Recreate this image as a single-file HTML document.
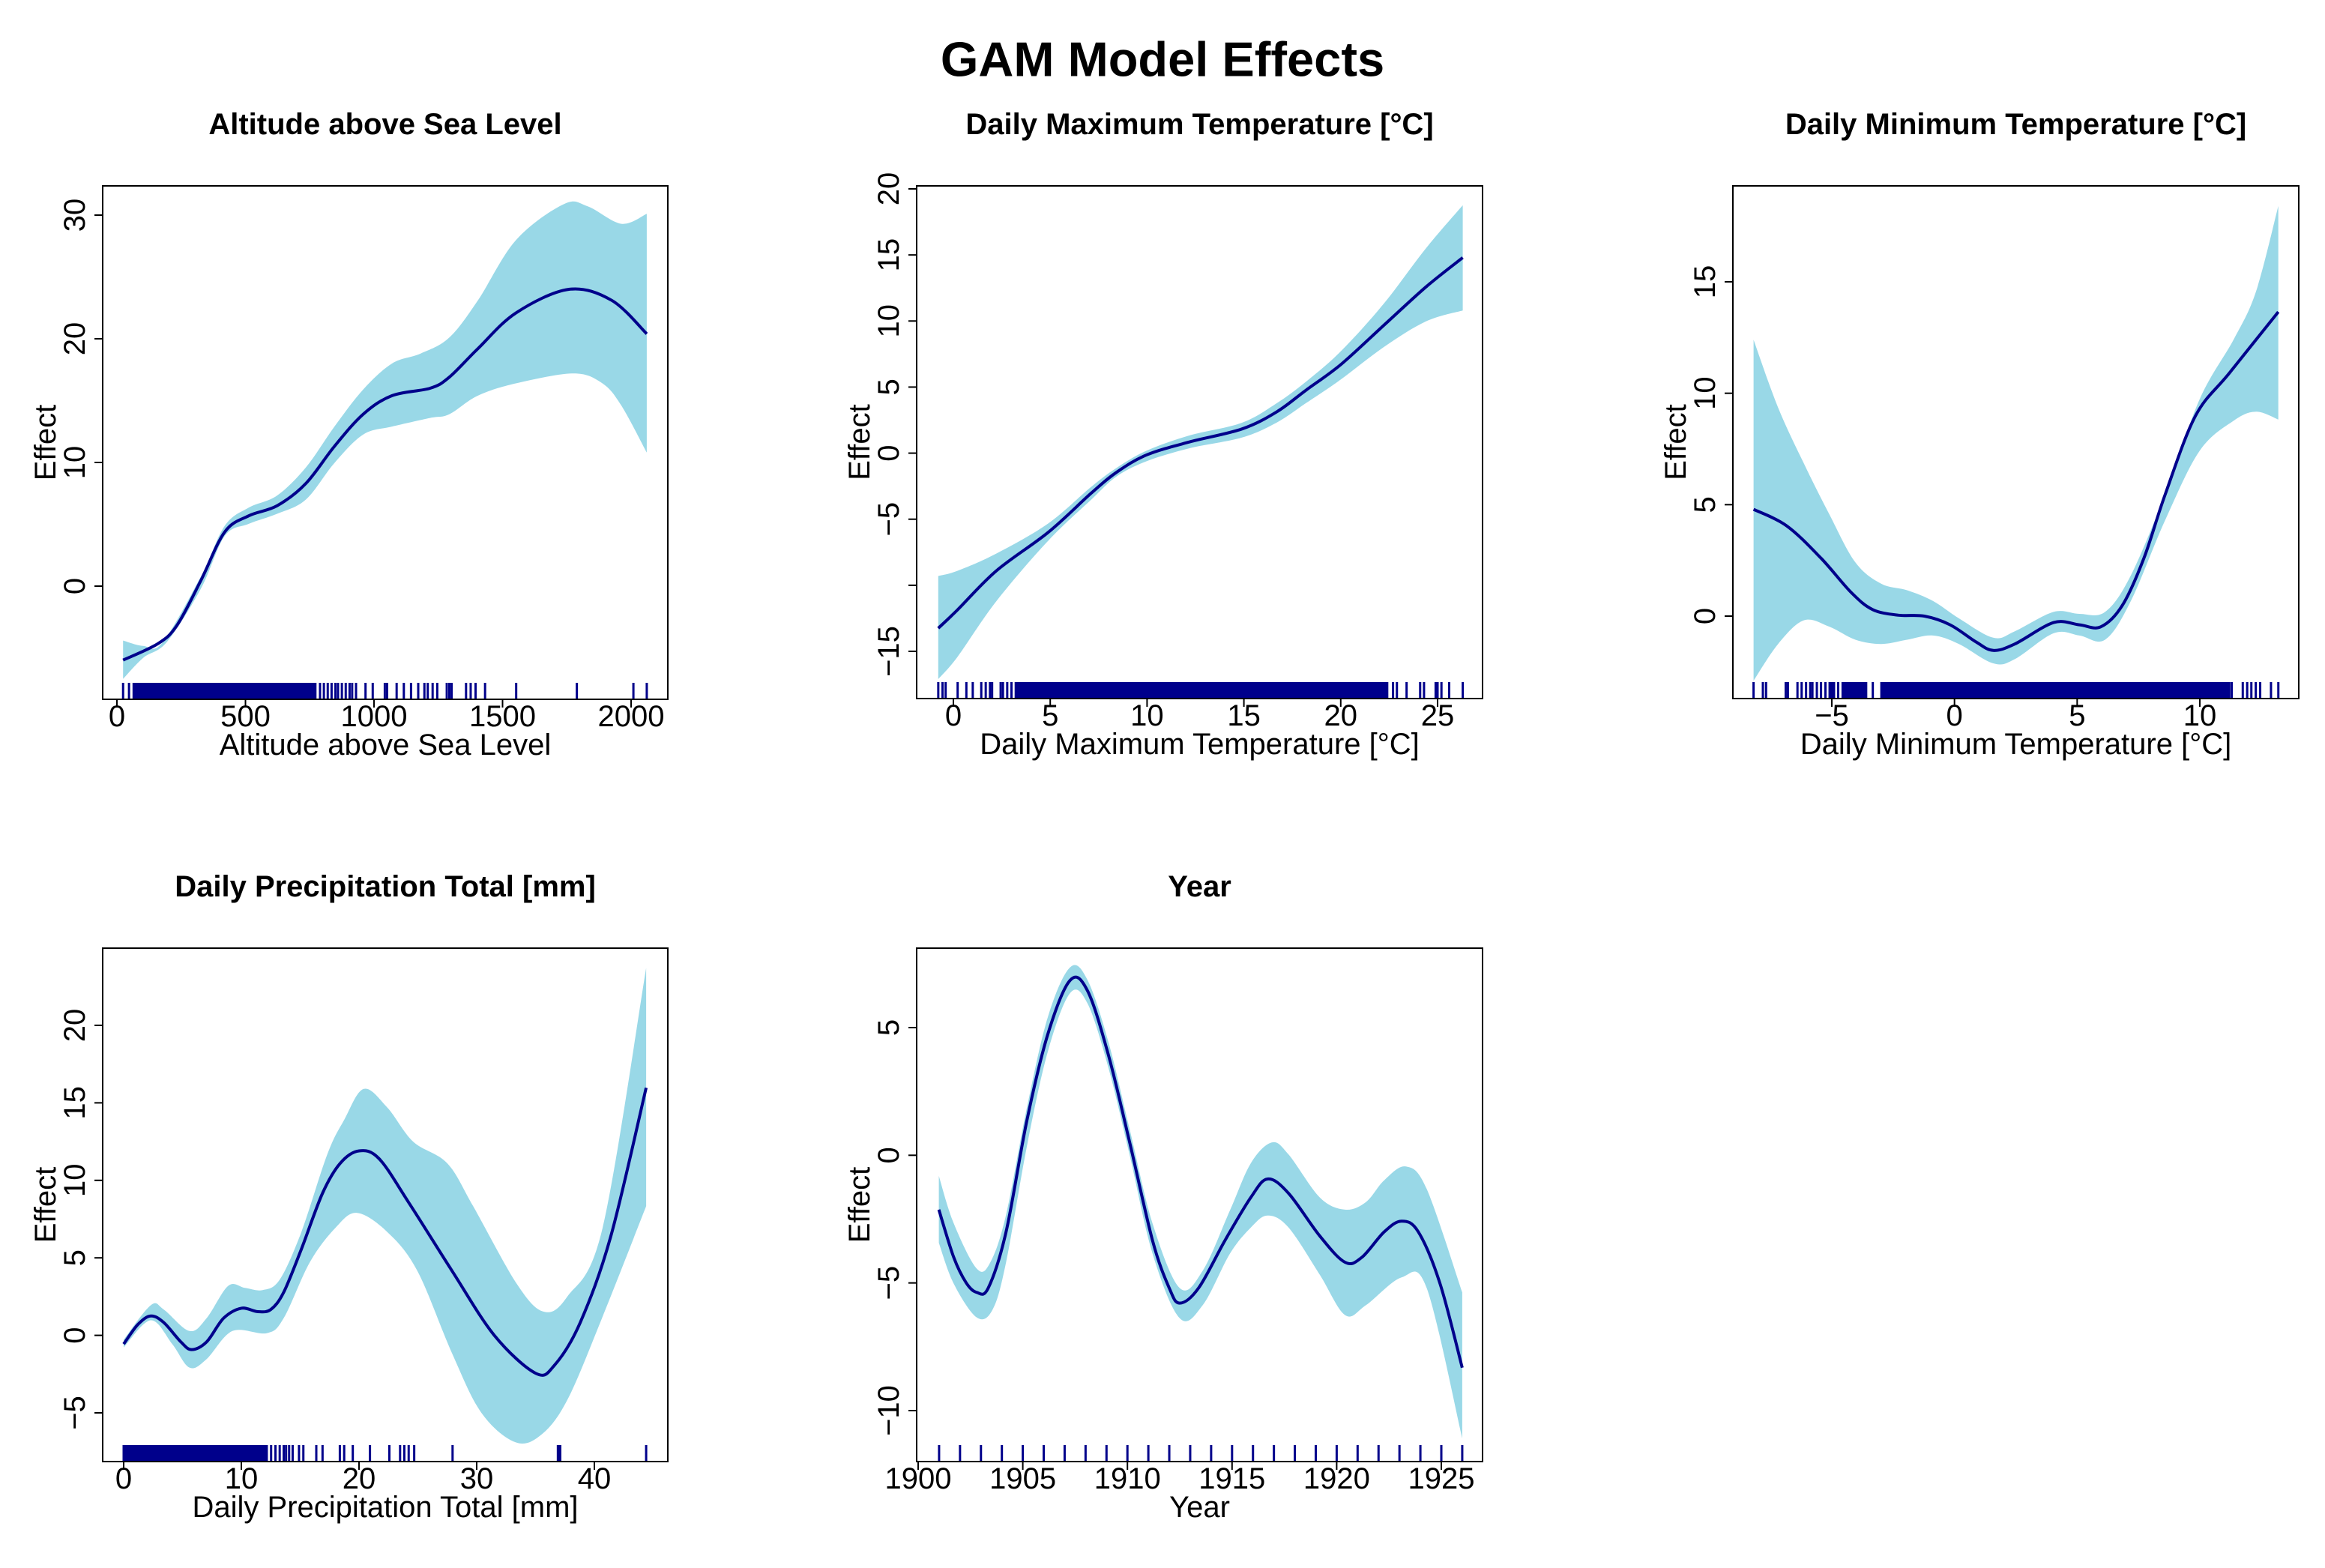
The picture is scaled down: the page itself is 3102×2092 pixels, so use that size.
<!DOCTYPE html>
<html><head><meta charset="utf-8">
<style>
html,body{margin:0;padding:0;background:#fff;}
svg{display:block;font-family:"Liberation Sans",Arial,sans-serif;}
</style></head>
<body>
<svg id="fig" width="3102" height="2092" viewBox="0 0 3102 2092" xmlns="http://www.w3.org/2000/svg">
<rect width="3102" height="2092" fill="#fff"/>
<text x="1551" y="79" font-size="65" font-weight="bold" text-anchor="middle" dominant-baseline="central">GAM Model Effects</text>
</svg>
<script>
// ---------- Panel 1: Altitude ----------
const p1FitX = [24,158,233,326,419,512,623,735,846,958,1070,1218,1293,1404,1553,1758,1925,2061];
const p1FitY = [-5.98,-4.67,-3.19,0.43,4.37,5.68,6.5,8.3,11.3,13.9,15.4,16.0,16.9,19.2,22.1,24.0,23.1,20.4];
const p1UpX = [24,102,177,326,419,512,623,735,846,958,1070,1181,1293,1404,1553,1739,1832,1962,2061];
const p1UpY = [-4.4,-4.83,-4.57,0.76,4.86,6.34,7.33,9.6,12.9,15.9,18.0,18.8,20.1,23.1,28.0,30.9,30.7,29.3,30.1];
const p1LoX = [24,102,195,326,419,512,623,735,846,958,1070,1218,1293,1404,1553,1776,1888,1962,2061];
const p1LoY = [-7.5,-5.8,-4.5,-0.23,4.04,5.03,5.85,7.0,9.96,12.26,12.9,13.6,13.9,15.4,16.4,17.2,16.4,14.6,10.8];
const p1RugSingle = [24,47,790,805,820,835,850,860,875,890,905,915,930,967,995,1042,1051,1088,1116,1144,1172,1196,1209,1228,1246,1283,1293,1302,1358,1376,1395,1432,1553,1789,2009,2061];
const p1RugSpanStart = [65];
const p1RugSpanEnd = [772];
const p1XTicks = [0,500,1000,1500,2000];
const p1YTicks = [0,10,20,30];

// ---------- Panel 2: Daily Max Temp ----------
const p2FitX = [-0.78,0.22,2.22,4.89,7.1,8.44,10.0,12.2,14.9,16.7,18.2,20.0,22.2,24.4,26.3];
const p2FitY = [-13.25,-11.85,-8.9,-6.0,-3.05,-1.43,-0.12,0.85,1.83,3.13,4.76,6.7,9.64,12.58,14.8];
const p2UpY = [-9.3,-8.9,-7.6,-5.33,-2.57,-1.1,0.2,1.34,2.3,3.78,5.4,7.7,11.27,15.5,18.76];
const p2LoY = [-17.1,-15.4,-11.2,-6.64,-3.54,-1.75,-0.6,0.37,1.18,2.32,3.78,5.57,8.0,9.97,10.8];
const p2RugSingle = [-0.78,-0.56,-0.4,0.22,0.67,1.0,1.44,1.67,1.89,2.0,2.44,2.56,2.78,3.0,22.4,22.7,22.9,23.4,24.1,24.3,24.9,25.0,25.2,25.6,26.3];
const p2RugSpanStart = [3.22];
const p2RugSpanEnd = [22.3];
const p2XTicks = [0,5,10,15,20,25];
const p2YTicks = [-15,-10,-5,0,5,10,15,20];
const p2YLabels = ["\u221215","","\u22125","0","5","10","15","20"];

// ---------- Panel 3: Daily Min Temp ----------
const p3FitX = [-8.19,-6.84,-5.44,-4.21,-3.33,-2.28,-1.23,-0.18,0.88,1.58,2.46,4.04,5.09,5.96,6.84,7.72,8.6,9.82,11.2,13.2];
const p3FitY = [4.79,4.05,2.6,1.06,0.29,0.04,0,-0.39,-1.16,-1.54,-1.25,-0.29,-0.39,-0.48,0.48,2.6,5.5,8.98,10.9,13.65];
const p3BandX = [-8.19,-7.19,-6.14,-5.09,-4.04,-2.98,-1.93,-0.88,0.18,1.58,2.46,4.04,5.09,6.14,7.19,8.6,10.0,11.4,12.3,13.2];
const p3UpY = [12.4,9.36,6.85,4.54,2.41,1.45,1.16,0.68,-0.1,-0.97,-0.68,0.19,0.1,0.19,1.83,5.5,9.75,12.45,14.6,18.4];
const p3LoY = [-2.9,-1.25,-0.19,-0.48,-1.06,-1.25,-1.06,-0.87,-1.25,-2.12,-1.93,-0.77,-0.87,-1.06,0.68,4.34,7.43,8.78,9.17,8.82];
const p3RugSingle = [-8.19,-7.81,-7.68,-6.88,-6.79,-6.4,-6.23,-6.05,-5.88,-5.79,-5.61,-5.44,-5.26,-5.09,-5.0,-4.91,-4.74,-3.6,-3.33,11.3,11.75,11.93,12.1,12.28,12.46,12.9,13.2];
const p3RugSpanStart = [-4.56,-2.98];
const p3RugSpanEnd = [-3.68,11.2];
const p3XTicks = [-5,0,5,10];
const p3YTicks = [0,5,10,15];

// ---------- Panel 4: Precipitation ----------
const p4FitX = [0,1.2,2.3,3.4,4.86,5.77,7.05,8.5,10.0,11.4,12.5,13.6,15.1,16.9,18.4,20.0,21.7,24.2,27.9,31.5,35.0,36.6,38.8,41.4,44.4];
const p4FitY = [-0.56,0.69,1.25,0.83,-0.42,-0.92,-0.42,1.11,1.75,1.53,1.67,2.78,5.56,9.17,11.1,11.9,11.4,8.6,4.17,0,-2.44,-1.94,0.83,6.4,15.97];
const p4UpX = [0,2.3,3.4,5.59,7.05,8.88,10.3,11.8,13.26,15.1,17.3,18.74,20.4,22.4,24.6,27.5,29.7,33.4,35.7,37.7,40.7,44.4];
const p4UpY = [-0.28,1.94,1.67,0.28,1.11,3.19,3.06,2.92,3.6,6.67,11.67,13.9,15.9,14.7,12.5,11.1,8.33,3.33,1.53,2.5,6.94,23.7];
const p4LoX = [0,2.3,4.13,5.59,7.05,9.24,12.16,13.6,15.82,18.0,19.83,22.4,24.95,27.88,30.4,33.3,35.5,37.7,40.65,44.4];
const p4LoY = [-0.78,0.97,-0.56,-2.08,-1.53,0.28,0.14,1.11,4.72,6.94,7.9,6.67,4.17,-1.11,-5.0,-6.9,-6.4,-4.17,1.11,8.33];
const p4RugSingle = [12.16,12.53,12.9,13.26,13.6,13.8,14.06,14.36,14.9,15.27,16.37,16.9,18.37,18.74,19.47,20.93,22.58,23.49,23.85,24.22,24.69,27.95,36.9,37.0,37.1,44.4];
const p4RugSpanStart = [0];
const p4RugSpanEnd = [12.0];
const p4XTicks = [0,10,20,30,40];
const p4YTicks = [-5,0,5,10,15,20];

// ---------- Panel 5: Year ----------
const p5FitX = [1900.99,1901.7,1902.3,1902.8,1903.35,1904.2,1905.2,1906.2,1907.26,1908.1,1909.1,1910.1,1911.2,1912.0,1912.5,1913.4,1914.66,1915.9,1916.7,1917.7,1919.2,1920.4,1921.2,1922.27,1923.1,1923.9,1924.94,1926.0];
const p5FitY = [-2.13,-4.0,-5.0,-5.37,-5.2,-3.0,1.38,4.75,6.85,6.43,3.9,0.53,-3.34,-5.2,-5.79,-5.2,-3.34,-1.65,-0.93,-1.49,-3.17,-4.19,-4.0,-3.0,-2.58,-3.0,-5.03,-8.32];
const p5UpX = [1900.99,1901.7,1902.8,1903.45,1904.2,1905.2,1906.2,1907.26,1908.1,1909.1,1910.1,1911.2,1912.5,1913.6,1914.9,1915.9,1916.9,1917.7,1919.2,1920.4,1921.4,1922.27,1923.3,1924.3,1926.0];
const p5UpY = [-0.81,-2.67,-4.44,-4.19,-2.33,1.88,5.42,7.36,6.85,4.41,1.04,-2.67,-5.2,-4.52,-2.16,-0.31,0.5,0.03,-1.66,-2.13,-1.83,-0.98,-0.44,-1.32,-5.37];
const p5LoX = [1900.99,1901.7,1902.8,1903.56,1904.2,1905.2,1906.2,1907.26,1908.1,1909.1,1910.1,1911.2,1912.5,1913.6,1914.9,1915.9,1916.7,1917.7,1919.2,1920.4,1921.4,1923.1,1924.3,1926.0];
const p5LoY = [-3.43,-5.03,-6.35,-6.04,-4.19,0.37,4.07,6.35,5.93,3.4,0.03,-3.85,-6.38,-5.87,-3.85,-2.83,-2.36,-2.83,-4.69,-6.26,-5.87,-4.78,-5.2,-11.09];
const p5RugSingle = [1901,1902,1903,1904,1905,1906,1907,1908,1909,1910,1911,1912,1913,1914,1915,1916,1917,1918,1919,1920,1921,1922,1923,1924,1925,1926];
const p5RugSpanStart = [];
const p5RugSpanEnd = [];
const p5XTicks = [1900,1905,1910,1915,1920,1925];
const p5YTicks = [-10,-5,0,5];

const NS = "http://www.w3.org/2000/svg";
const fig = document.getElementById('fig');
const BAND = "#99D8E7", LINE = "#00008B", RUG = "#00008B";

function mk(tag, attrs, parent){
  const e = document.createElementNS(NS, tag);
  for (const k in attrs) e.setAttribute(k, attrs[k]);
  (parent||fig).appendChild(e);
  return e;
}
function lin(v1,p1,v2,p2){ const s=(p2-p1)/(v2-v1); return v => p1 + (v-v1)*s; }
function smooth(pts){
  if (pts.length < 2) return "";
  let d = "M" + pts[0][0].toFixed(1) + "," + pts[0][1].toFixed(1);
  for (let i=0;i<pts.length-1;i++){
    const p0 = pts[Math.max(0,i-1)], p1 = pts[i], p2 = pts[i+1], p3 = pts[Math.min(pts.length-1,i+2)];
    const c1x = p1[0] + (p2[0]-p0[0])/6, c1y = p1[1] + (p2[1]-p0[1])/6;
    const c2x = p2[0] - (p3[0]-p1[0])/6, c2y = p2[1] - (p3[1]-p1[1])/6;
    d += " C" + c1x.toFixed(1)+","+c1y.toFixed(1)+" "+c2x.toFixed(1)+","+c2y.toFixed(1)+" "+p2[0].toFixed(1)+","+p2[1].toFixed(1);
  }
  return d;
}

function panel(cfg){
  const g = mk('g', {});
  
  
  const X = lin(cfg.xc[0], cfg.xc[1], cfg.xc[2], cfg.xc[3]);
  const Y = lin(cfg.yc[0], cfg.yc[1], cfg.yc[2], cfg.yc[3]);
  const [L,T,R,B] = cfg.box;
  const cx = (L+R)/2;

  // band
  const up = cfg.upX.map((v,i)=>[X(v), Y(cfg.upY[i])]);
  const lo = cfg.loX.map((v,i)=>[X(v), Y(cfg.loY[i])]).reverse();
  let dUp = smooth(up);
  let dLo = smooth(lo).replace(/^M/, " L");
  const band = mk('path', {d: dUp + dLo + " Z", fill: BAND, stroke: "none"}, g);
  
  

  // fit
  const fit = cfg.fitX.map((v,i)=>[X(v), Y(cfg.fitY[i])]);
  const fl = mk('path', {d: smooth(fit), fill: "none", stroke: LINE, "stroke-width": 4, "stroke-linejoin":"round"}, g);
  
  

  // rug
  const rg = mk('g', {}, g);
  
  
  cfg.rugS.forEach(v=>{
    const l = mk('line', {x1:X(v), x2:X(v), y1:B, y2:B-22, stroke:RUG, "stroke-width":3}, rg);
    
    
  });
  cfg.spanS.forEach((v,i)=>{
    const r = mk('rect', {x:X(v)-1.5, y:B-22, width:X(cfg.spanE[i])-X(v)+3, height:22, fill:RUG}, rg);
    
    
  });

  // box
  const bx = mk('rect', {x:L, y:T, width:R-L, height:B-T, fill:"none", stroke:"#000", "stroke-width":2}, g);
  
  

  // x ticks
  cfg.xt.forEach(v=>{
    const x = X(v);
    const t = mk('line', {x1:x, x2:x, y1:B, y2:B+11, stroke:"#000", "stroke-width":2}, g);
    
    
    const tx = mk('text', {x:x, y:B+23, "font-size":40, "text-anchor":"middle", "dominant-baseline":"central"}, g);
    
    
    tx.textContent = String(v).replace('-', '\u2212');
  });
  // y ticks
  cfg.yt.forEach((v,i)=>{
    const y = Y(v);
    const t = mk('line', {x1:L-11, x2:L, y1:y, y2:y, stroke:"#000", "stroke-width":2}, g);
    
    
    const lab = cfg.yl ? cfg.yl[i] : String(v).replace('-', '\u2212');
    if (lab !== "") {
      const tx = mk('text', {x:0, y:0, "font-size":40, "text-anchor":"middle", "dominant-baseline":"central",
        transform:"translate(" + (L-37) + "," + y + ") rotate(-90)"}, g);
      
      
      tx.textContent = lab;
    }
  });
  // titles
  const ti = mk('text', {x:cx, y:T-82, "font-size":40, "font-weight":"bold", "text-anchor":"middle", "dominant-baseline":"central"}, g);
  
  
  ti.textContent = cfg.title;
  const xl = mk('text', {x:cx, y:B+61, "font-size":40, "text-anchor":"middle", "dominant-baseline":"central"}, g);
  
  
  xl.textContent = cfg.title;
  const yl = mk('text', {x:0, y:0, "font-size":40, "text-anchor":"middle", "dominant-baseline":"central",
    transform:"translate(" + (L-76) + "," + ((T+B)/2) + ") rotate(-90)"}, g);
  
  
  yl.textContent = "Effect";
}

panel({name:'altitude', title:'Altitude above Sea Level', box:[137,248,891,933],
  xc:[0,156,2000,842], yc:[0,782,30,287],
  fitX:p1FitX, fitY:p1FitY, upX:p1UpX, upY:p1UpY, loX:p1LoX, loY:p1LoY,
  rugS:p1RugSingle, spanS:p1RugSpanStart, spanE:p1RugSpanEnd, xt:p1XTicks, yt:p1YTicks});
panel({name:'max-temp', title:'Daily Maximum Temperature [°C]', box:[1223,248,1978,932],
  xc:[0,1272,25,1918], yc:[20,252,-15,869],
  fitX:p2FitX, fitY:p2FitY, upX:p2FitX, upY:p2UpY, loX:p2FitX, loY:p2LoY,
  rugS:p2RugSingle, spanS:p2RugSpanStart, spanE:p2RugSpanEnd, xt:p2XTicks, yt:p2YTicks, yl:p2YLabels});
panel({name:'min-temp', title:'Daily Minimum Temperature [°C]', box:[2312,248,3067,932],
  xc:[-5,2444,10,2935], yc:[15,376,0,822],
  fitX:p3FitX, fitY:p3FitY, upX:p3BandX, upY:p3UpY, loX:p3BandX, loY:p3LoY,
  rugS:p3RugSingle, spanS:p3RugSpanStart, spanE:p3RugSpanEnd, xt:p3XTicks, yt:p3YTicks});
panel({name:'precipitation', title:'Daily Precipitation Total [mm]', box:[137,1265,891,1950],
  xc:[0,165,40,793], yc:[20,1368,-5,1885],
  fitX:p4FitX, fitY:p4FitY, upX:p4UpX, upY:p4UpY, loX:p4LoX, loY:p4LoY,
  rugS:p4RugSingle, spanS:p4RugSpanStart, spanE:p4RugSpanEnd, xt:p4XTicks, yt:p4YTicks});
panel({name:'year', title:'Year', box:[1223,1265,1978,1950],
  xc:[1900,1225,1925,1923], yc:[5,1371,-10,1882],
  fitX:p5FitX, fitY:p5FitY, upX:p5UpX, upY:p5UpY, loX:p5LoX, loY:p5LoY,
  rugS:p5RugSingle, spanS:p5RugSpanStart, spanE:p5RugSpanEnd, xt:p5XTicks, yt:p5YTicks});
</script>
</body></html>
